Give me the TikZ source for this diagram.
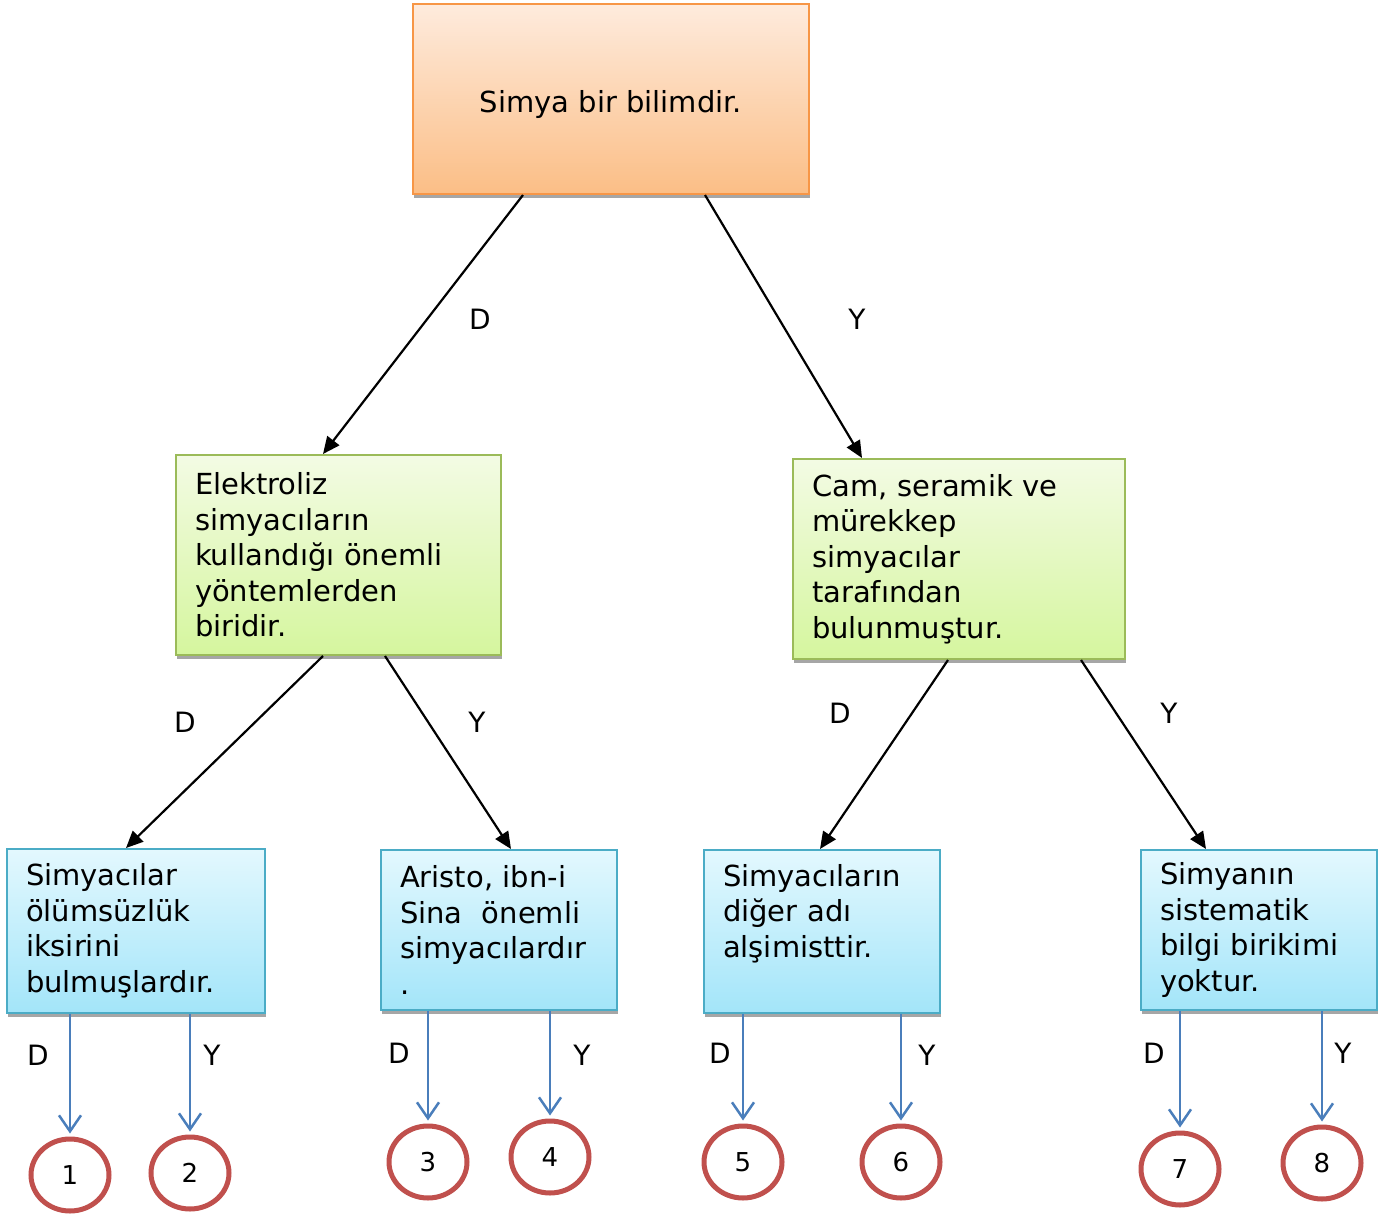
\documentclass[tikz,border=0pt]{standalone}
\usepackage{fontspec}
\setmainfont{DejaVu Sans}
\usetikzlibrary{shapes.geometric,arrows.meta,shadows}

\definecolor{orangeline}{HTML}{F79646}
\definecolor{orangetop}{HTML}{FEEBDD}
\definecolor{orangebot}{HTML}{FBBE86}
\definecolor{greenline}{HTML}{9BBB59}
\definecolor{greentop}{HTML}{F3FBE4}
\definecolor{greenbot}{HTML}{D5F69E}
\definecolor{blueline}{HTML}{4BACC6}
\definecolor{bluetop}{HTML}{E3F8FE}
\definecolor{bluebot}{HTML}{A3E5F9}
\definecolor{redring}{HTML}{C0504D}
\definecolor{bluearrow}{HTML}{4A7EBB}

\tikzset{
	box/.style={draw, line width=2pt, align=left, inner xsep=19pt,
		font=\fontsize{29pt}{35.5pt}\selectfont,
		drop shadow={shadow xshift=1pt, shadow yshift=-4pt, fill=black!35, opacity=1}},
	orangebox/.style={box, draw=orangeline, top color=orangetop, bottom color=orangebot, align=center},
	greenbox/.style={box, draw=greenline, top color=greentop, bottom color=greenbot},
	bluebox/.style={box, draw=blueline, top color=bluetop, bottom color=bluebot},
	ring/.style={draw=redring, line width=5pt, shape=ellipse, minimum width=78pt, minimum height=72pt,
		inner sep=0pt, font=\fontsize{26pt}{30pt}\selectfont},
	answer/.style={font=\fontsize{28pt}{32pt}\selectfont, inner sep=0pt},
	branch/.style={line width=2.2pt, -{Triangle[length=17pt,width=15pt]}},
	leaf/.style={bluearrow, line width=2.5pt, -{Straight Barb[length=16pt,width=22pt]}, shorten >=3pt}
}

\begin{document}
\begin{tikzpicture}[x=1pt,y=-1pt]

		\useasboundingbox (0,0) rectangle (1391,1214);

		\node (Simya) at (611,99) [orangebox, minimum width=396pt, minimum height=190pt, text height=34pt]{Simya bir bilimdir.};

		\node (Elektroliz) at (338.5,555) [greenbox, text width=287pt, minimum height=200pt]{Elektroliz\\ simyacıların\\ kullandığı önemli\\ yöntemlerden\\ biridir.};
		\node (Cam) at (959,559) [greenbox, text width=294pt, minimum height=200pt]{Cam, seramik ve\\ mürekkep\\ simyacılar\\ tarafından\\ bulunmuştur.};

		\node (Iksir) at (136,931) [bluebox, text width=220pt, minimum height=164pt]{Simyacılar\\ ölümsüzlük\\ iksirini\\ bulmuşlardır.};
		\node (Aristo) at (499,930) [bluebox, text width=198pt, minimum height=160pt]{Aristo, ibn-i\\ Sina\ \ önemli\\ simyacılardır\\ .};
		\node (Alsimi) at (822,931.5) [bluebox, text width=198pt, minimum height=163pt, text depth=113pt]{Simyacıların\\ diğer adı\\ alşimisttir.};
		\node (Birikim) at (1259,930) [bluebox, text width=198pt, minimum height=160pt]{Simyanın\\ sistematik\\ bilgi birikimi\\ yoktur.};

		\node (R1) at (70,1175) [ring]{1};
		\node (R2) at (190,1173) [ring]{2};
		\node (R3) at (428,1162) [ring]{3};
		\node (R4) at (550,1157) [ring]{4};
		\node (R5) at (743,1162) [ring]{5};
		\node (R6) at (901,1162) [ring]{6};
		\node (R7) at (1180,1169) [ring]{7};
		\node (R8) at (1322,1163) [ring]{8};

		% cevap etiketleri
		\node (SimyaD) at (480,319) [answer]{D};
		\node (SimyaY) at (857,319) [answer]{Y};
		\node (ElektrolizD) at (185,722) [answer]{D};
		\node (ElektrolizY) at (477,722) [answer]{Y};
		\node (CamD) at (840,713) [answer]{D};
		\node (CamY) at (1169,713) [answer]{Y};
		\node (IksirD) at (38,1055) [answer]{D};
		\node (IksirY) at (212,1055) [answer]{Y};
		\node (AristoD) at (399,1053) [answer]{D};
		\node (AristoY) at (582,1055) [answer]{Y};
		\node (AlsimiD) at (720,1053) [answer]{D};
		\node (AlsimiY) at (927,1055) [answer]{Y};
		\node (BirikimD) at (1154,1053) [answer]{D};
		\node (BirikimY) at (1343,1053) [answer]{Y};

		\draw [branch] ([xshift=-88pt]Simya.south) -- ([xshift=-15.5pt]Elektroliz.north);
		\draw [branch] ([xshift=94pt]Simya.south) -- ([xshift=-97pt]Cam.north);

		\draw [branch] ([xshift=-15.5pt]Elektroliz.south) -- ([xshift=-10pt]Iksir.north);
		\draw [branch] ([xshift=46.5pt]Elektroliz.south) -- ([xshift=12pt]Aristo.north);

		\draw [branch] ([xshift=-11pt]Cam.south) -- ([xshift=-2pt]Alsimi.north);
		\draw [branch] ([xshift=122pt]Cam.south) -- ([xshift=-53pt]Birikim.north);

		\draw [leaf] (R1.north |- Iksir.south) -- (R1.north);
		\draw [leaf] (R2.north |- Iksir.south) -- (R2.north);
		\draw [leaf] (R3.north |- Aristo.south) -- (R3.north);
		\draw [leaf] (R4.north |- Aristo.south) -- (R4.north);
		\draw [leaf] (R5.north |- Alsimi.south) -- (R5.north);
		\draw [leaf] (R6.north |- Alsimi.south) -- (R6.north);
		\draw [leaf] (R7.north |- Birikim.south) -- (R7.north);
		\draw [leaf] (R8.north |- Birikim.south) -- (R8.north);
	\end{tikzpicture}
\end{document}
